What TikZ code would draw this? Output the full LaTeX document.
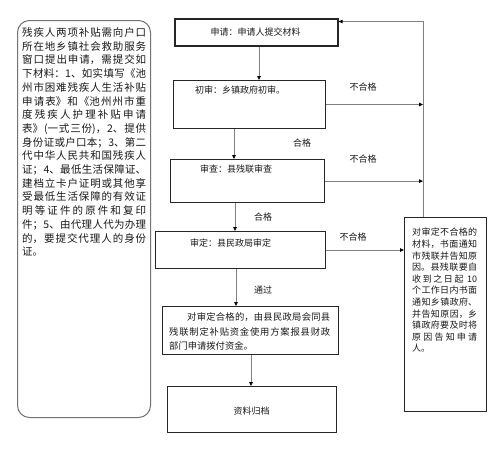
\documentclass[tikz,border=0pt]{standalone}
\usepackage{fontspec}
\setmainfont{Noto Sans CJK SC}
\usetikzlibrary{arrows.meta}
\XeTeXlinebreaklocale "zh"
\XeTeXlinebreakskip=0pt plus 1pt
\newcommand\jl[1]{{\parfillskip=0pt\relax #1\par}}
\newcommand\lastl[1]{{\parfillskip=0pt plus 1fil\relax #1\par}}
\begin{document}
\begin{tikzpicture}[x=1pt,y=-1pt,
  box/.style={draw=black!85, line width=1pt, anchor=north west, inner sep=0pt},
  conn/.style={draw=black!50, line width=0.8pt},
  arr/.style={conn, -{Triangle[length=4pt,width=3.5pt,color=black]}},
  txt/.style={inner sep=0pt, font=\fontsize{9}{11}\selectfont, text=black!90},
  para/.style={inner sep=0pt, anchor=north west, align=justify, text=black!90}]
\useasboundingbox[fill=white] (0,0) rectangle (500,453);

% left rounded box
\node[draw=black!55, line width=1pt, rounded corners=12pt, anchor=north west,
      minimum width=133pt, minimum height=397pt, inner sep=0pt] (lb) at (17,20) {};
\node[para, text width=124pt, font=\fontsize{10.5}{13.7}\selectfont] (lt) at (22,27.5) {%
\parindent=0pt\tolerance=10000
\jl{残疾人两项补贴需向户口}
\jl{所在地乡镇社会救助服务}
\jl{窗口提出申请，需提交如}
\jl{下材料：1、如实填写《池}
\jl{州市困难残疾人生活补贴}
\jl{申请表》和《池州州市重}
\jl{度残疾人护理补贴申请}
\jl{表》(一式三份)，2、提供}
\jl{身份证或户口本；3、第二}
\jl{代中华人民共和国残疾人}
\jl{证；4、最低生活保障证、}
\jl{建档立卡户证明或其他享}
\jl{受最低生活保障的有效证}
\jl{明等证件的原件和复印}
\jl{件；5、由代理人代为办理}
\jl{的，要提交代理人的身份}
\lastl{证。}};

% flow boxes
\node[box, line width=1.6pt, minimum width=163pt, minimum height=27pt] (b1) at (174,18) {};
\node[box, minimum width=152pt, minimum height=48pt] (b2) at (173,80) {};
\node[box, line width=1.2pt, minimum width=154pt, minimum height=43pt] (b3) at (170,159) {};
\node[box, minimum width=170pt, minimum height=37pt] (b4) at (155,231) {};
\node[box, minimum width=176pt, minimum height=48pt] (b5) at (162,306) {};
\node[box, minimum width=169pt, minimum height=46pt] (b6) at (167,386) {};
\node[box, minimum width=82pt, minimum height=194pt] (rb) at (404,217) {};

% box texts
\node[txt] (t1) at (255.5,32) {申请：申请人提交材料};
\node[txt, anchor=west] (t2) at (195,90) {初审：乡镇政府初审。};
\node[txt, anchor=west] (t3) at (200,169) {审查：县残联审查};
\node[txt, anchor=west] (t4) at (190,243) {审定：县民政局审定};
\node[para, text width=161pt, font=\fontsize{9.3}{14.5}\selectfont] (t5) at (169,312.5) {%
\parindent=0pt\tolerance=10000
\jl{\hspace*{18pt}对审定合格的，由县民政局会同县}
\jl{残联制定补贴资金使用方案报县财政}
\lastl{部门申请拨付资金。}};
\node[txt] (t6) at (251.5,411) {资料归档};
\node[para, text width=65pt, font=\fontsize{9}{11.6}\selectfont] (rt) at (412,228) {%
\parindent=0pt\tolerance=10000
\jl{对审定不合格的}
\jl{材料，书面通知}
\jl{市残联并告知原}
\jl{因。县残联要自}
\jl{收到之日起 10}
\jl{个工作日内书面}
\jl{通知乡镇政府、}
\jl{并告知原因，乡}
\jl{镇政府要及时将}
\jl{原因告知申请}
\lastl{人。}};

% labels
\node[txt] (n1) at (363,87) {不合格};
\node[txt] (n2) at (363,159) {不合格};
\node[txt] (n3) at (353,237) {不合格};
\node[txt] (p1) at (302,143) {合格};
\node[txt] (p2) at (263,217) {合格};
\node[txt] (p3) at (263,290) {通过};

% connector coordinates
\coordinate (c12) at (259,0);
\coordinate (c23) at (234,0);
\coordinate (c34) at (235,0);
\coordinate (c45) at (236,0);
\coordinate (c56) at (251,0);
\coordinate (rx) at (423,0);
\coordinate (rtop) at (423,21.5);

% vertical flow
\draw[arr] (b1.south -| c12) -- (b2.north -| c12);
\draw[arr] (b2.south -| c23) -- (b3.north -| c23);
\draw[arr] (b3.south -| c34) -- (b4.north -| c34);
\draw[arr] (b4.south -| c45) -- (b5.north -| c45);
\draw[arr] (b5.south -| c56) -- (b6.north -| c56);

% rejection paths
\draw[arr] (b2.east) -- (b2.east -| rx);
\draw[arr] (b3.east) -- (b3.east -| rx);
\draw[arr] (b4.east) -- (b4.east -| rb.west);
\draw[arr] (rb.north -| rx) -- (rtop) -- (rtop -| b1.east);
\end{tikzpicture}
\end{document}
